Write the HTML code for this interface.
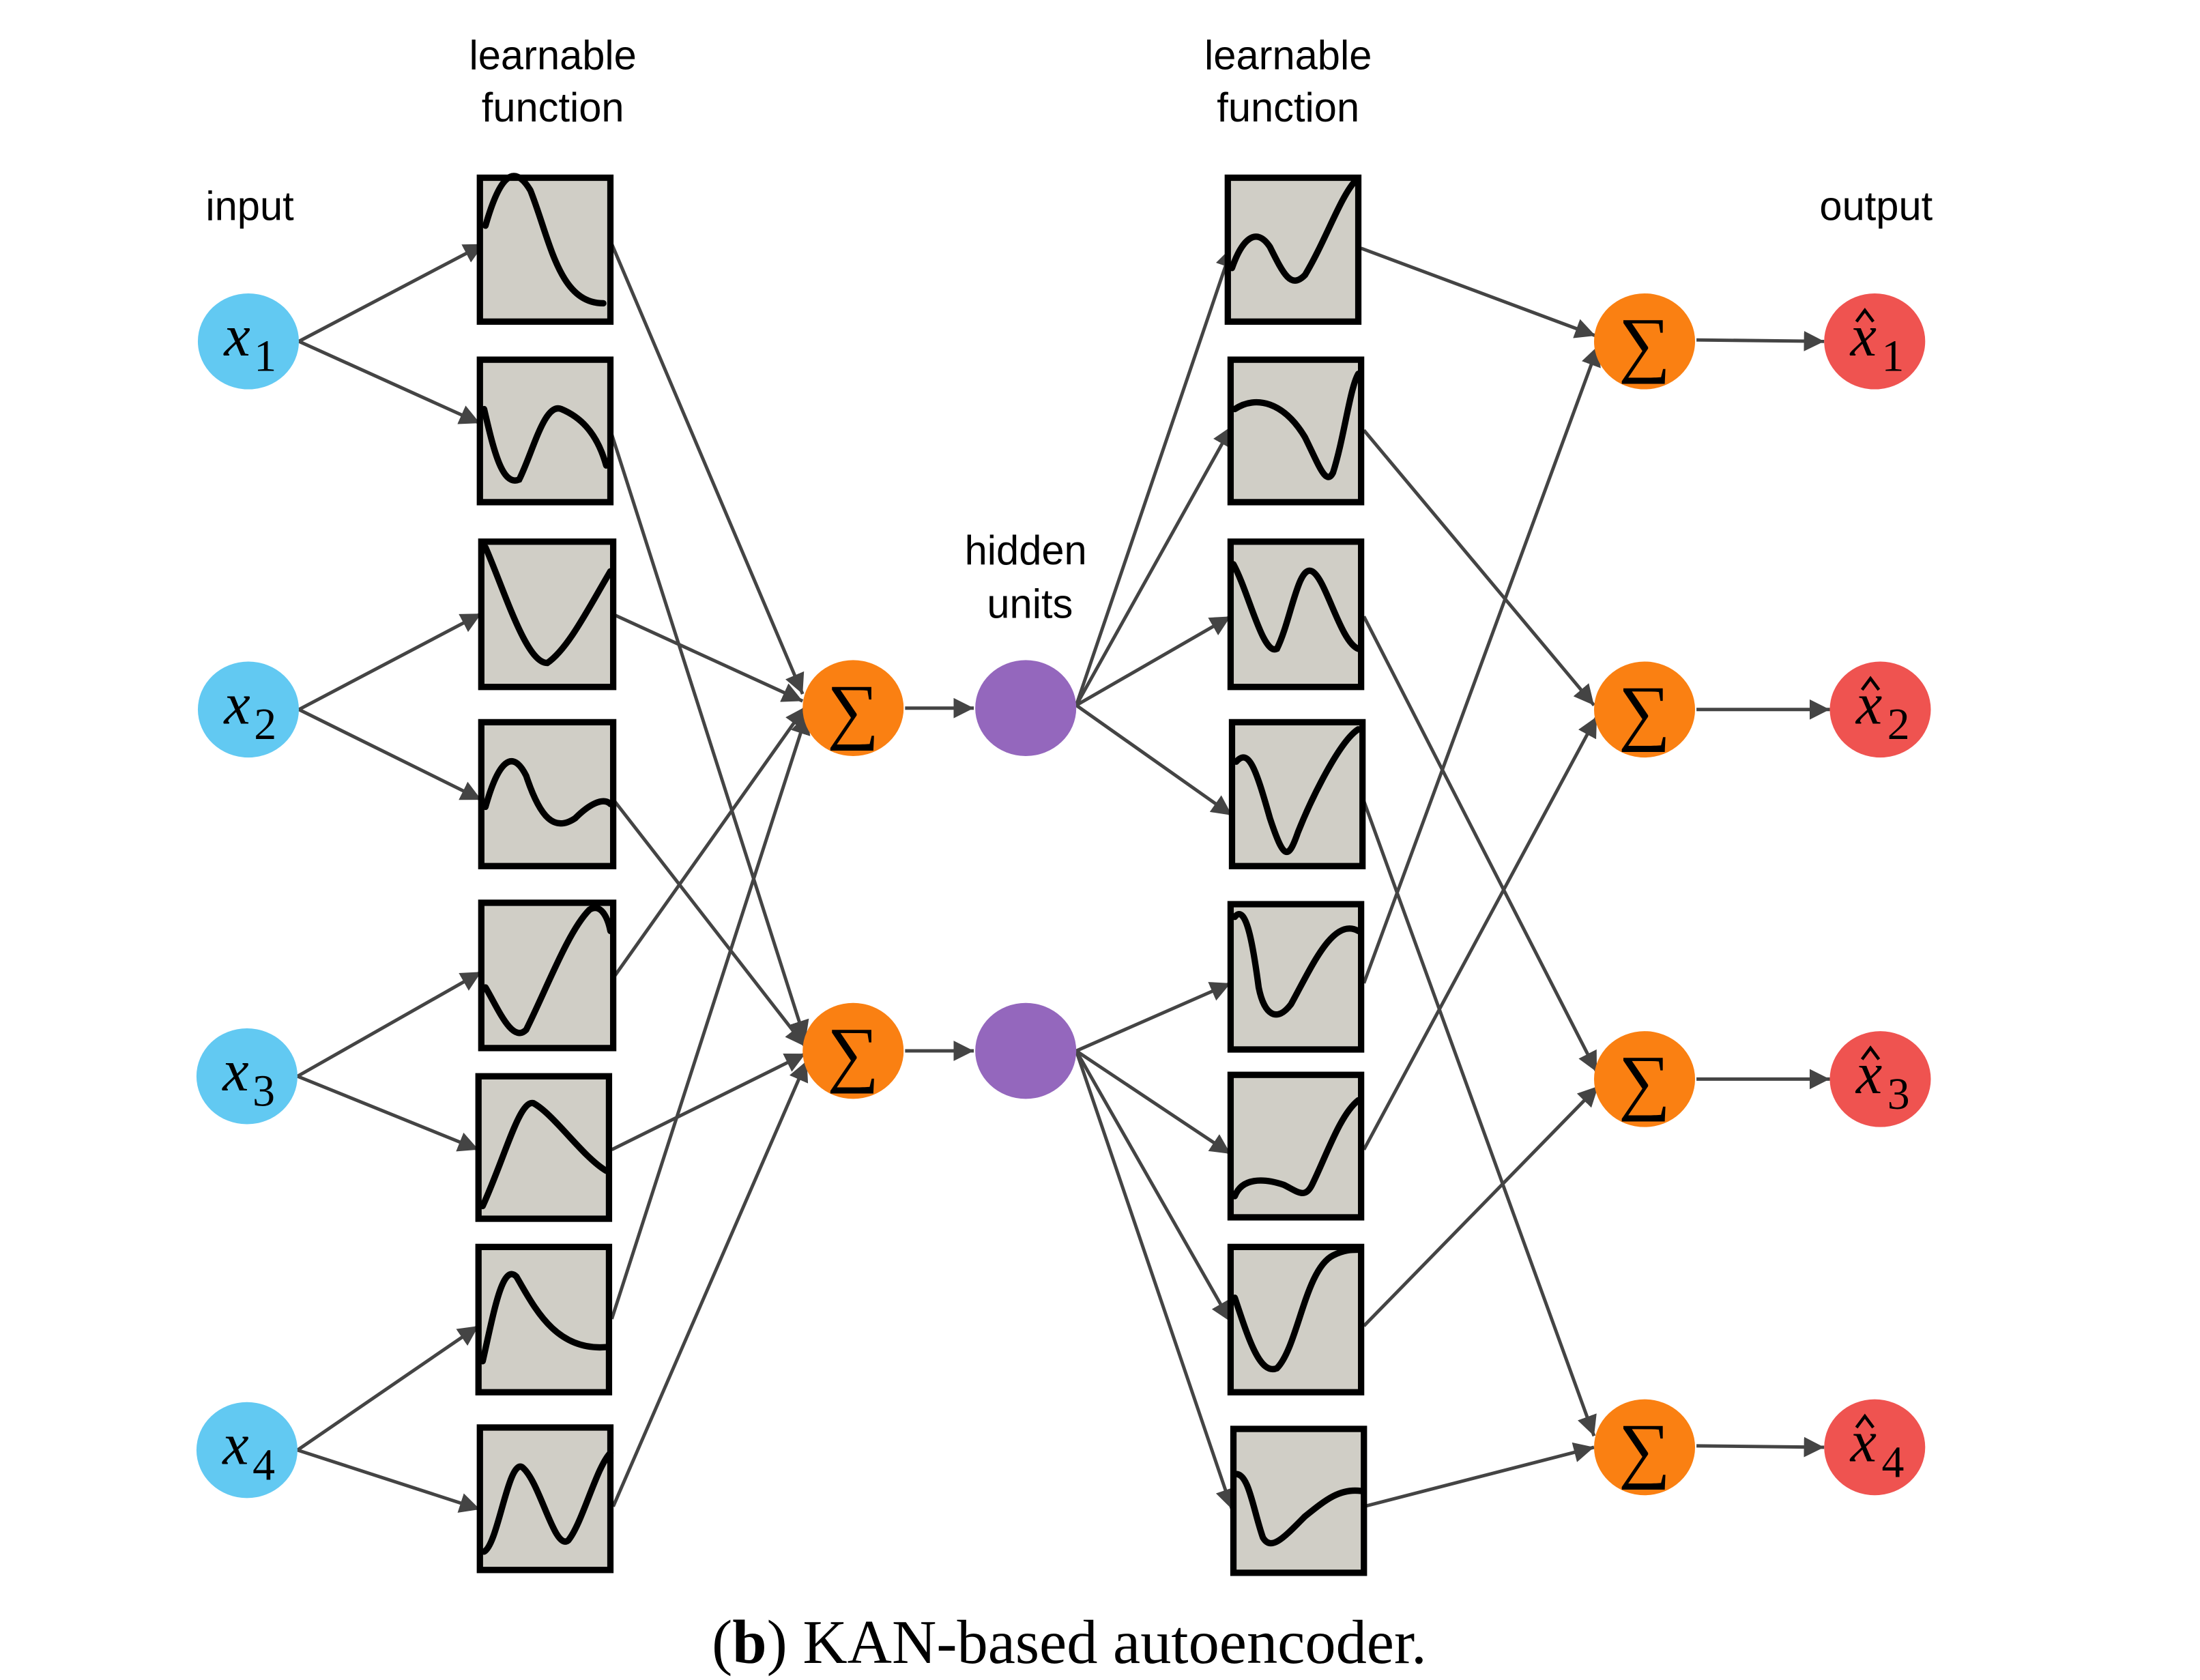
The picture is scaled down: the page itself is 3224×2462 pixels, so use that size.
<!DOCTYPE html>
<html><head><meta charset="utf-8"><style>
html,body{margin:0;padding:0;background:#fff;}
svg{display:block}
.lab{font-family:"Liberation Sans",sans-serif;font-size:29px;fill:#000;text-anchor:middle}
.m{font-family:"Liberation Serif",serif;font-style:italic;font-size:42px;fill:#000;text-anchor:middle}
.s{font-family:"Liberation Serif",serif;font-size:52px;fill:#000;text-anchor:middle}
.sub{font-family:"Liberation Serif",serif;font-size:32px;fill:#000;text-anchor:middle}
.e{stroke:#444;stroke-width:2.4;fill:none;marker-end:url(#a)}
.b{fill:#d0cec6;stroke:#000;stroke-width:4.5}
.c{fill:none;stroke:#000;stroke-width:4.5;stroke-linecap:round}
.h{fill:none;stroke:#000;stroke-width:2.2}
</style></head><body>
<svg width="3224" height="2462" viewBox="0 0 1560 1191" preserveAspectRatio="none">
<defs><marker id="a" viewBox="0 0 10 10" refX="10" refY="5" markerWidth="6" markerHeight="6" orient="auto" markerUnits="strokeWidth"><path d="M0,0 L10,5 L0,10z" fill="#444"/></marker></defs>
<g transform="scale(0.995,1)">
<text class="lab" x="394" y="49">learnable</text><text class="lab" x="394" y="86">function</text>
<text class="lab" x="918" y="49">learnable</text><text class="lab" x="918" y="86">function</text>
<text class="lab" x="178" y="156">input</text>
<text class="lab" x="1337" y="156">output</text>
<text class="lab" x="731" y="400">hidden</text><text class="lab" x="734" y="438">units</text>

<g>
<line class="e" x1="213" y1="242" x2="345" y2="173"/>
<line class="e" x1="213" y1="242" x2="342" y2="300"/>
<line class="e" x1="213" y1="503" x2="343" y2="435"/>
<line class="e" x1="213" y1="503" x2="343" y2="567"/>
<line class="e" x1="212" y1="763" x2="343" y2="689"/>
<line class="e" x1="212" y1="763" x2="341" y2="815"/>
<line class="e" x1="212" y1="1028" x2="341" y2="940"/>
<line class="e" x1="212" y1="1028" x2="342" y2="1070"/>

<line class="e" x1="436" y1="173" x2="572" y2="492"/>
<line class="e" x1="436" y1="308" x2="574" y2="738"/>
<line class="e" x1="438" y1="436" x2="572" y2="497"/>
<line class="e" x1="438" y1="568" x2="574" y2="742"/>
<line class="e" x1="438" y1="692" x2="574" y2="501"/>
<line class="e" x1="436" y1="815" x2="574" y2="747"/>
<line class="e" x1="436" y1="935" x2="575" y2="506"/>
<line class="e" x1="437" y1="1068" x2="575" y2="752"/>

<line class="e" x1="645" y1="502" x2="694" y2="502"/>
<line class="e" x1="645" y1="745" x2="694" y2="745"/>

<line class="e" x1="767" y1="500" x2="878" y2="175"/>
<line class="e" x1="767" y1="500" x2="878" y2="302"/>
<line class="e" x1="767" y1="500" x2="877" y2="437"/>
<line class="e" x1="767" y1="500" x2="878" y2="578"/>
<line class="e" x1="767" y1="745" x2="877" y2="697"/>
<line class="e" x1="767" y1="745" x2="877" y2="818"/>
<line class="e" x1="767" y1="745" x2="877" y2="937"/>
<line class="e" x1="767" y1="745" x2="878" y2="1070"/>

<line class="e" x1="970" y1="176" x2="1137" y2="238"/>
<line class="e" x1="972" y1="305" x2="1136" y2="500"/>
<line class="e" x1="972" y1="437" x2="1138" y2="760"/>
<line class="e" x1="972" y1="568" x2="1136" y2="1018"/>
<line class="e" x1="972" y1="697" x2="1139" y2="245"/>
<line class="e" x1="972" y1="815" x2="1138" y2="508"/>
<line class="e" x1="972" y1="940" x2="1139" y2="770"/>
<line class="e" x1="972" y1="1068" x2="1136" y2="1026"/>

<line class="e" x1="1209" y1="241" x2="1300" y2="242"/>
<line class="e" x1="1209" y1="503" x2="1304" y2="503"/>
<line class="e" x1="1209" y1="765" x2="1304" y2="765"/>
<line class="e" x1="1209" y1="1025" x2="1300" y2="1026"/>
</g>

<rect class="b" x="342" y="126" width="93" height="102"/>
<path class="c" d="M346,160 C356,125 366,115 378,135 C392,170 398,215 430,215"/>
<rect class="b" x="342" y="255" width="93" height="101"/>
<path class="c" d="M345,290 C352,320 358,345 370,340 C380,320 388,285 400,290 C412,295 425,305 432,330"/>
<rect class="b" x="343" y="384" width="94" height="103"/>
<path class="c" d="M346,388 C360,420 375,470 390,470 C405,460 420,430 435,405"/>
<rect class="b" x="343" y="512" width="94" height="102"/>
<path class="c" d="M346,572 C355,540 365,530 375,550 C385,580 395,590 410,580 C420,570 430,565 435,570"/>
<rect class="b" x="343" y="640" width="94" height="103"/>
<path class="c" d="M346,700 C355,715 365,740 375,730 C390,700 405,660 420,645 C428,640 433,650 435,660"/>
<rect class="b" x="341" y="763" width="93" height="101"/>
<path class="c" d="M344,855 C360,820 370,780 380,782 C395,790 415,820 432,830"/>
<rect class="b" x="341" y="884" width="93" height="103"/>
<path class="c" d="M344,965 C352,930 358,895 368,905 C380,925 395,958 432,955"/>
<rect class="b" x="342" y="1012" width="93" height="101"/>
<path class="c" d="M345,1100 C355,1095 362,1035 372,1040 C385,1050 395,1100 405,1092 C415,1080 425,1040 435,1030"/>

<rect class="b" x="875" y="126" width="93" height="102"/>
<path class="c" d="M878,190 C885,170 895,160 905,175 C915,195 920,205 930,195 C945,170 955,140 966,128"/>
<rect class="b" x="877" y="255" width="93" height="101"/>
<path class="c" d="M880,290 C895,280 915,285 930,310 C940,330 945,345 950,335 C958,310 962,275 968,265"/>
<rect class="b" x="877" y="384" width="93" height="103"/>
<path class="c" d="M879,400 C890,420 900,465 910,460 C920,440 925,400 935,405 C945,410 955,455 968,460"/>
<rect class="b" x="878" y="512" width="93" height="102"/>
<path class="c" d="M881,540 C890,530 895,545 905,580 C915,610 918,610 925,590 C935,565 955,525 968,517"/>
<rect class="b" x="877" y="641" width="93" height="103"/>
<path class="c" d="M880,650 C888,640 893,670 897,700 C901,720 910,725 920,712 C935,685 950,650 968,660"/>
<rect class="b" x="877" y="762" width="93" height="101"/>
<path class="c" d="M880,848 C885,835 900,835 915,840 C925,845 930,850 935,840 C945,820 955,790 968,780"/>
<rect class="b" x="877" y="884" width="93" height="103"/>
<path class="c" d="M880,920 C890,950 898,975 910,970 C925,955 930,900 950,890 C958,886 963,886 968,886"/>
<rect class="b" x="879" y="1013" width="93" height="102"/>
<path class="c" d="M881,1045 C890,1045 893,1070 900,1090 C906,1100 915,1090 930,1075 C945,1063 955,1055 970,1057"/>

<g fill="#62c9f2">
<ellipse cx="177" cy="242" rx="36" ry="34"/><ellipse cx="177" cy="503" rx="36" ry="34"/>
<ellipse cx="176" cy="763" rx="36" ry="34"/><ellipse cx="176" cy="1028" rx="36" ry="34"/>
</g>
<text class="m" x="169" y="252">x</text><text class="sub" x="189" y="263">1</text>
<text class="m" x="169" y="513">x</text><text class="sub" x="189" y="524">2</text>
<text class="m" x="168" y="773">x</text><text class="sub" x="188" y="784">3</text>
<text class="m" x="168" y="1038">x</text><text class="sub" x="188" y="1049">4</text>

<g fill="#fa8012">
<ellipse cx="608" cy="502" rx="36" ry="34"/><ellipse cx="608" cy="745" rx="36" ry="34"/>
<ellipse cx="1172" cy="242" rx="36" ry="34"/><ellipse cx="1172" cy="503" rx="36" ry="34"/>
<ellipse cx="1172" cy="765" rx="36" ry="34"/><ellipse cx="1172" cy="1026" rx="36" ry="34"/>
</g>
<g class="s">
<text x="608" y="521">∑</text><text x="608" y="764">∑</text>
<text x="1172" y="261">∑</text><text x="1172" y="522">∑</text>
<text x="1172" y="784">∑</text><text x="1172" y="1045">∑</text>
</g>

<g fill="#9467bd">
<ellipse cx="731" cy="502" rx="36" ry="34"/><ellipse cx="731" cy="745" rx="36" ry="34"/>
</g>

<g fill="#ef5350">
<ellipse cx="1336" cy="242" rx="36" ry="34"/><ellipse cx="1340" cy="503" rx="36" ry="34"/>
<ellipse cx="1340" cy="765" rx="36" ry="34"/><ellipse cx="1336" cy="1026" rx="36" ry="34"/>
</g>
<g>
<text class="m" x="1328" y="252">x</text><path class="h" d="M1323,228 L1329,220 L1335,228"/><text class="sub" x="1349" y="263">1</text>
<text class="m" x="1332" y="513">x</text><path class="h" d="M1327,489 L1333,481 L1339,489"/><text class="sub" x="1353" y="524">2</text>
<text class="m" x="1332" y="775">x</text><path class="h" d="M1327,751 L1333,743 L1339,751"/><text class="sub" x="1353" y="786">3</text>
<text class="m" x="1328" y="1036">x</text><path class="h" d="M1323,1012 L1329,1004 L1335,1012"/><text class="sub" x="1349" y="1047">4</text>
</g>

<text x="762" y="1179" style="font-family:'Liberation Serif',serif;font-size:44px;text-anchor:middle">(<tspan font-weight="bold">b</tspan>) KAN-based autoencoder.</text>
</g>
</svg>
</body></html>
